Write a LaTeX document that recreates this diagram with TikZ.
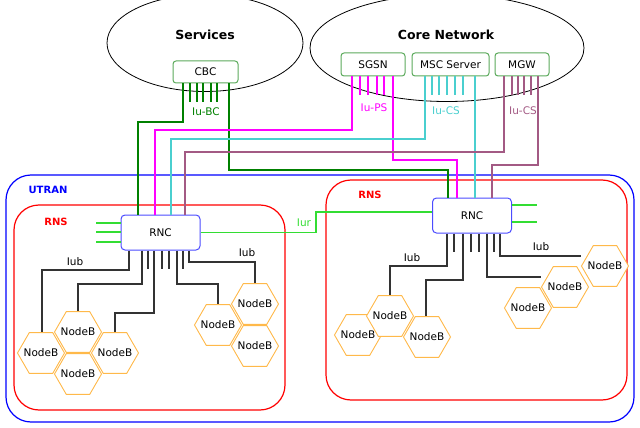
\documentclass[tikz,border=0pt]{standalone}
\usepackage{fontspec}
\setmainfont{DejaVu Sans}
\usetikzlibrary{calc,positioning,shapes.geometric}
\definecolor{bcgreen}{HTML}{008000}
\definecolor{psmag}{HTML}{FF00FF}
\definecolor{cscyan}{HTML}{4ACFCF}
\definecolor{cspurple}{HTML}{A35A84}
\definecolor{iurgreen}{HTML}{33DD33}
\definecolor{hexorange}{HTML}{FFB94A}
\definecolor{boxgreen}{HTML}{5CAA5C}

\begin{document}
\begin{tikzpicture}[
  x=1pt,y=-1pt,
  font=\fontsize{10.5}{12}\selectfont,
  cloud/.style={draw,ellipse,line width=0.8pt},
  title/.style={font=\fontsize{12.5}{15}\selectfont\bfseries},
  tag/.style={font=\fontsize{10}{12}\selectfont\bfseries},
  core box/.style={draw=boxgreen,fill=white,rounded corners=3pt,line width=1pt,minimum height=22pt,inner sep=1pt},
  rnc/.style={draw=blue!70,fill=white,rounded corners=4pt,line width=1pt,minimum width=79pt,minimum height=35pt},
  nodeb/.style={draw=hexorange,fill=white,line width=0.9pt,regular polygon,regular polygon sides=6,
    minimum size=47pt,inner sep=0pt,label={center:NodeB}},
  iub/.style={draw=black!80,line width=1.3pt},
  area/.style={line width=1.2pt,rounded corners=25pt},
  ]
  \useasboundingbox (0,0) rectangle (640,428);

  % core side
  \node (services) [cloud,minimum width=196pt,minimum height=97pt] at (205,43) {};
  \node (core) [cloud,minimum width=274pt,minimum height=107pt] at (447,48) {};
  \node [title] at (205,35) {Services};
  \node [title] at (446,35) {Core Network};

  % utran frames
  \draw[area,blue] (6,175) rectangle (634,422);
  \draw[area,red] (14,205) rectangle (285,410);
  \draw[area,red] (326,180) rectangle (627,400);
  \node [tag,blue] at (48,190) {UTRAN};
  \node [tag,red] at (56,222) {RNS};
  \node [tag,red] at (370,195) {RNS};

  \node (rncL) [rnc] at (160.5,232.5) {RNC};
  \node (rncR) [rnc] at (472,215.5) {RNC};

  \node (cbc) [core box,minimum width=65pt] at (205.5,72) {CBC};
  \node (sgsn) [core box,minimum width=64pt,minimum height=23pt] at (373,64.5) {SGSN};
  \node (msc) [core box,minimum width=77pt,minimum height=23pt] at (450.5,64.5) {MSC Server};
  \node (mgw) [core box,minimum width=54pt,minimum height=23pt] at (522,64.5) {MGW};

  % Iu interfaces
  \begin{scope}[line width=1.3pt]
    \foreach \x in {190,197,203,211,217} \draw[bcgreen] (cbc.south -| \x,0) -- (\x,102);
    \draw[bcgreen] (cbc.south -| 183,0) |- (138,122) -- (rncL.north -| 138,0);
    \draw[bcgreen] (cbc.south -| 229,0) |- (448,170) -- (rncR.north -| 448,0);
    \node [bcgreen] at (206,112) {Iu-BC};

    \foreach \x in {360,368,377,384} \draw[psmag] (sgsn.south -| \x,0) -- (\x,95);
    \draw[psmag] (sgsn.south -| 352,0) |- (155,130) -- (rncL.north -| 155,0);
    \draw[psmag] (sgsn.south -| 393,0) |- (457,160) -- (rncR.north -| 457,0);
    \node [psmag] at (374,108) {Iu-PS};

    \foreach \x in {432,439,447,455,463} \draw[cscyan] (msc.south -| \x,0) -- (\x,95);
    \draw[cscyan] (msc.south -| 425,0) |- (171,139) -- (rncL.north -| 171,0);
    \draw[cscyan] (msc.south -| 475,0) -- (rncR.north -| 475,0);
    \node [cscyan] at (446,111) {Iu-CS};

    \foreach \x in {512,518,524,531} \draw[cspurple] (mgw.south -| \x,0) -- (\x,95);
    \draw[cspurple] (mgw.south -| 504,0) |- (185,152) -- (rncL.north -| 185,0);
    \draw[cspurple] (mgw.south -| 538,0) |- (492,165) -- (rncR.north -| 492,0);
    \node [cspurple] at (523,111) {Iu-CS};

    % Iur
    \foreach \y in {223,232,242} \draw[iurgreen] (rncL.west |- 0,\y) -- (96,\y);
    \foreach \y in {205,222} \draw[iurgreen] (rncR.east |- 0,\y) -- (537,\y);
    \draw[iurgreen] (rncL.east) -| (316,212) -- (rncR.west |- 0,212);
    \node [iurgreen] at (304,223) {Iur};
  \end{scope}

  % left NodeBs
  \node (nbL1) [nodeb] at (41,353) {};
  \node (nbL2) [nodeb] at (78,332) {};
  \node (nbL3) [nodeb] at (115,353) {};
  \node (nbL4) [nodeb] at (78,374) {};
  \node (nbL5) [nodeb] at (218,325) {};
  \node (nbL6) [nodeb] at (255,304) {};
  \node (nbL7) [nodeb] at (255,346) {};
  \foreach \x in {148,162,169,183} \draw[iub] (rncL.south -| \x,0) -- (\x,269);
  \draw[iub] (rncL.south -| 129,0) |- (42,270) -- (nbL1.north -| 42,0);
  \draw[iub] (rncL.south -| 142,0) |- (78,284) -- (nbL2.north);
  \draw[iub] (rncL.south -| 154,0) |- (115,313) -- (nbL3.north);
  \draw[iub] (rncL.south -| 177,0) |- (218,284) -- (nbL5.north);
  \draw[iub] (rncL.south -| 189,0) |- (255,262) -- (nbL6.north);
  \node at (75,262) {Iub};
  \node at (247,253) {Iub};

  % right NodeBs
  \node (nbR1) [nodeb] at (358,335) {};
  \node (nbR2) [nodeb] at (390,316) {};
  \node (nbR3) [nodeb] at (427,337) {};
  \node (nbR4) [nodeb] at (528,308) {};
  \node (nbR5) [nodeb] at (565,287) {};
  \node (nbR6) [nodeb] at (605,266) {};
  \foreach \x in {454,471,479,494} \draw[iub] (rncR.south -| \x,0) -- (\x,252);
  \draw[iub] (rncR.south -| 447,0) |- (390,266) -- (nbR2.north);
  \draw[iub] (rncR.south -| 463,0) |- (426,280) -- (nbR3.north -| 426,0);
  \draw[iub] (rncR.south -| 487,0) |- (nbR5.west |- 0,277);
  \draw[iub] (rncR.south -| 500,0) |- (nbR6.west |- 0,256);
  \node at (412,258) {Iub};
  \node at (541,247) {Iub};
\end{tikzpicture}
\end{document}
